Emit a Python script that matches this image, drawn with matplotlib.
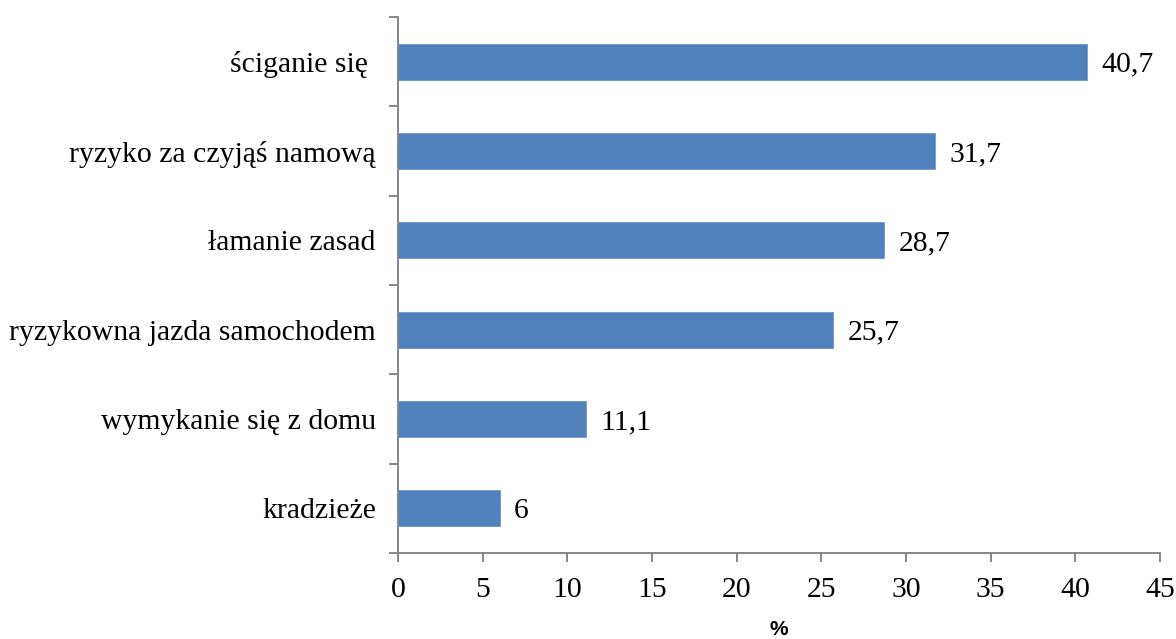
import matplotlib
matplotlib.use("Agg")
import matplotlib.pyplot as plt

categories = ["kradzieże", "wymykanie się z domu", "ryzykowna jazda samochodem",
              "łamanie zasad", "ryzyko za czyjąś namową", "ściganie się "]
values = [6, 11.1, 25.7, 28.7, 31.7, 40.7]
value_labels = ["6", "11,1", "25,7", "28,7", "31,7", "40,7"]
xticks = [0, 5, 10, 15, 20, 25, 30, 35, 40, 45]

plt.rcParams['font.family'] = ['Liberation Serif', 'DejaVu Serif']

fig = plt.figure(figsize=(11.76, 6.39), dpi=100)
ax = fig.add_axes([398/1176, 1-553/639, (1160-398)/1176, (553-17)/639])

fs = 21.4
pos = list(range(len(categories)))
ax.barh(pos, values, height=0.4, color="#4F81BD", edgecolor="#6f95c8", linewidth=0.6)
for p, v, lab in zip(pos, values, value_labels):
    ax.text(v + 0.85, p, lab, va="center_baseline", ha="left", fontsize=fs, color="black")

ax.set_xlim(0, 45)
ax.set_ylim(-0.5, len(categories) - 0.5)
ax.set_xticks(xticks)
ax.set_xticklabels([str(t) for t in xticks], fontsize=fs)
ax.set_yticks(pos)
ax.set_yticklabels(categories, fontsize=fs)
ax.set_yticks([p - 0.5 for p in range(len(categories) + 1)], minor=True)
ax.tick_params(axis='y', which='major', length=0, pad=16)
ax.tick_params(axis='y', which='minor', length=6.5, width=1.4, color="#868686", direction='out')
ax.tick_params(axis='x', length=6.5, width=1.4, color="#868686", direction='out', pad=11)
for s in ["top", "right"]:
    ax.spines[s].set_visible(False)
for s in ["left", "bottom"]:
    ax.spines[s].set_color("#868686")
    ax.spines[s].set_linewidth(1.4)

ax.set_xlabel("%", fontsize=15, fontweight="bold", family=["Liberation Sans", "DejaVu Sans"], labelpad=12)

fig.savefig("out.png", dpi=100)
